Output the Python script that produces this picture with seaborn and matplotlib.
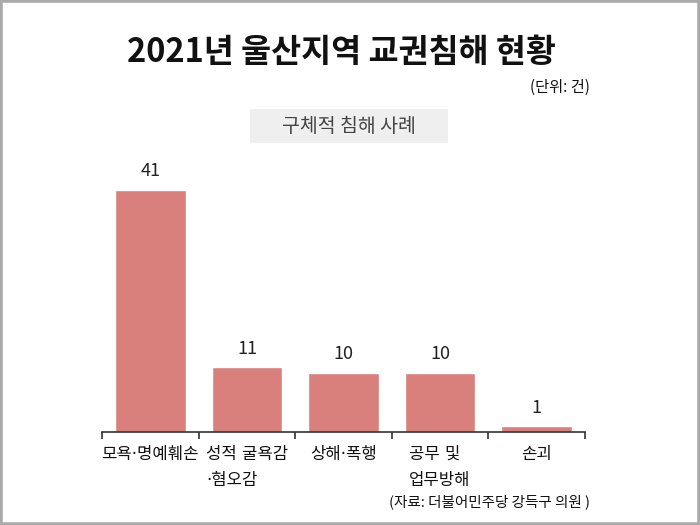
import numpy as np
import pandas as pd
import matplotlib
matplotlib.use("Agg")
import matplotlib.pyplot as plt
import seaborn as sns
from matplotlib.patches import Rectangle

sns.set_style("white")
plt.rcParams['font.family'] = ['Noto Sans CJK KR', 'DejaVu Sans']

# data
categories = ['모욕·명예훼손', '성적 굴욕감\n·혐오감', '상해·폭행', '공무 및\n업무방해', '손괴']
counts = [41, 11, 10, 10, 1]
title = '2021년 울산지역 교권침해 현황'
unit_text = '(단위: 건)'
subtitle = '구체적 침해 사례'
source_text = '(자료: 더불어민주당 강득구 의원 )'

df = pd.DataFrame({'category': categories, 'count': counts})

fig = plt.figure(figsize=(7, 5.25), dpi=100)
ax = fig.add_axes([0.1457, 0.177, 0.69, 0.507])

sns.barplot(data=df, x='category', y='count', color='#d9807c', saturation=1,
            width=0.73, ax=ax)

for i, v in enumerate(counts):
    ax.text(i, v + 1.6, str(v), ha='center', va='bottom', fontsize=13, color='#222222')

ax.set_ylim(0, 45)
ax.set_xlim(-0.5, len(categories) - 0.5)
ax.set_xlabel('')
ax.set_ylabel('')
ax.set_yticks([])
for s in ['top', 'right', 'left']:
    ax.spines[s].set_visible(False)
ax.spines['bottom'].set_color('#333333')
ax.spines['bottom'].set_linewidth(1.2)

# ticks at category boundaries
ax.set_xticks(range(len(categories)))
ax.set_xticks(np.arange(-0.5, len(categories)), minor=True)
ax.tick_params(axis='x', which='minor', bottom=True, length=5, width=1.2,
               color='#333333', direction='out')
ax.tick_params(axis='x', which='major', bottom=True, length=0, pad=9)
ax.set_xticklabels(categories, fontsize=12, color='#111111', linespacing=1.6,
                   family=['DejaVu Sans', 'Noto Sans CJK KR'])
for lbl in ax.get_xticklabels():
    lbl.set_multialignment('left')

fig.text(0.488, 0.9, title, ha='center', va='center', fontsize=23.5,
         fontweight='bold', color='#111111')
fig.text(0.842, 0.834, unit_text, ha='right', va='center', fontsize=11, color='#111111')
fig.patches.append(Rectangle((250 / 700, 1 - 143 / 525), 198 / 700, 34 / 525,
                             transform=fig.transFigure, facecolor='#efefef',
                             edgecolor='none'))
fig.text(349 / 700, 1 - 126 / 525, subtitle, ha='center', va='center', fontsize=14,
         color='#444444')
fig.text(0.843, 0.044, source_text, ha='right', va='center', fontsize=10.5, color='#111111')

fig.patches.append(Rectangle((0, 0), 1, 1, transform=fig.transFigure, fill=False,
                             edgecolor='#aaaaaa', linewidth=4))

fig.savefig('out.png', dpi=100)
